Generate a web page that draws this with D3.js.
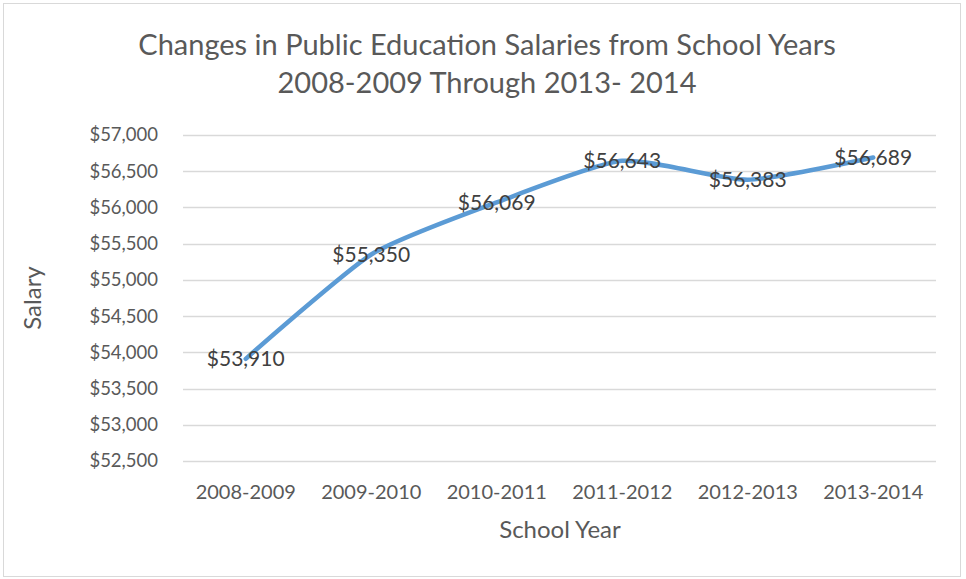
<!DOCTYPE html>
<html>
<head>
<meta charset="utf-8">
<script src="https://cdn.jsdelivr.net/npm/d3@7"></script>
<style>
  body { margin: 0; background: #fff; }
  svg { display: block; font-family: Lato, "Open Sans", sans-serif; }
</style>
</head>
<body>
<svg id="chart" width="966" height="579"></svg>
<script>
// data
const schoolYears = ["2008-2009", "2009-2010", "2010-2011", "2011-2012", "2012-2013", "2013-2014"];
const salaries = [53910, 55350, 56069, 56643, 56383, 56689];
const yTicks = [52500, 53000, 53500, 54000, 54500, 55000, 55500, 56000, 56500, 57000];

const svg = d3.select('#chart');
const margin = { top: 135, right: 30, bottom: 118, left: 183 };
const width = 966, height = 579;

// chart frame
svg.append('rect')
  .attr('x', 3.5).attr('y', 3.5)
  .attr('width', 957).attr('height', 573)
  .attr('fill', '#fff')
  .attr('stroke', '#d9d9d9');

const x = d3.scaleBand()
  .domain(schoolYears)
  .range([margin.left, width - margin.right]);

const y = d3.scaleLinear()
  .domain([52500, 57000])
  .range([height - margin.bottom, margin.top]);

// gridlines
svg.append('g')
  .selectAll('line')
  .data(yTicks)
  .join('line')
  .attr('x1', margin.left)
  .attr('x2', width - margin.right)
  .attr('y1', d => Math.round(y(d)) + 0.5)
  .attr('y2', d => Math.round(y(d)) + 0.5)
  .attr('stroke', '#d9d9d9')
  .attr('stroke-width', 1.5);

// y axis labels
const fmt = d => '$' + d3.format(',')(d);
svg.append('g')
  .selectAll('text')
  .data(yTicks)
  .join('text')
  .attr('x', 158)
  .attr('y', d => y(d))
  .attr('dy', '0.35em')
  .attr('text-anchor', 'end')
  .attr('font-size', 18.5)
  .attr('fill', '#595959')
  .text(fmt);

// x axis labels
svg.append('g')
  .selectAll('text')
  .data(schoolYears)
  .join('text')
  .attr('x', d => x(d) + x.bandwidth() / 2)
  .attr('y', 492)
  .attr('dy', '0.35em')
  .attr('text-anchor', 'middle')
  .attr('font-size', 20)
  .attr('fill', '#595959')
  .text(d => d);

// line (smoothed like Excel)
const line = d3.line()
  .x((d, i) => x(schoolYears[i]) + x.bandwidth() / 2)
  .y(d => y(d))
  .curve(d3.curveCardinal.tension(0.4));

svg.append('path')
  .datum(salaries)
  .attr('d', line)
  .attr('fill', 'none')
  .attr('stroke', '#5b9bd5')
  .attr('stroke-width', 4.5)
  .attr('stroke-linecap', 'round')
  .attr('stroke-linejoin', 'round');

// data labels
svg.append('g')
  .selectAll('text')
  .data(salaries)
  .join('text')
  .attr('x', (d, i) => x(schoolYears[i]) + x.bandwidth() / 2)
  .attr('y', d => y(d))
  .attr('dy', '0.35em')
  .attr('text-anchor', 'middle')
  .attr('font-size', 21)
  .attr('fill', '#404040')
  .text(fmt);

// title
svg.append('text')
  .attr('x', 487).attr('y', 45)
  .attr('dy', '0.35em')
  .attr('text-anchor', 'middle')
  .attr('font-size', 29)
  .attr('fill', '#595959')
  .text('Changes in Public Education Salaries from School Years');
svg.append('text')
  .attr('x', 487).attr('y', 83)
  .attr('dy', '0.35em')
  .attr('text-anchor', 'middle')
  .attr('font-size', 29)
  .attr('fill', '#595959')
  .text('2008-2009 Through 2013- 2014');

// axis titles
svg.append('text')
  .attr('transform', 'translate(33,298) rotate(-90)')
  .attr('dy', '0.35em')
  .attr('text-anchor', 'middle')
  .attr('font-size', 24)
  .attr('fill', '#595959')
  .text('Salary');

svg.append('text')
  .attr('x', 560).attr('y', 530)
  .attr('dy', '0.35em')
  .attr('text-anchor', 'middle')
  .attr('font-size', 24)
  .attr('fill', '#595959')
  .text('School Year');
</script>
</body>
</html>
